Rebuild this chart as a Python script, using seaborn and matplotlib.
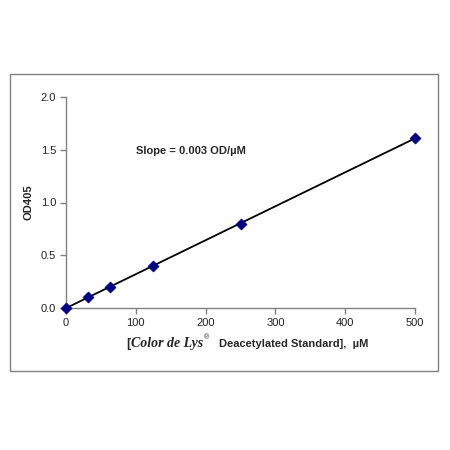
import matplotlib
matplotlib.use("Agg")
import matplotlib.pyplot as plt
import seaborn as sns
import numpy as np
import pandas as pd
from matplotlib.patches import Rectangle

conc = [0, 31.25, 62.5, 125, 250, 500]
od405 = [0.0, 0.10, 0.20, 0.40, 0.80, 1.61]
xticks = [0, 100, 200, 300, 400, 500]
yticks = [0.0, 0.5, 1.0, 1.5, 2.0]

sns.set_theme(style="white")
plt.rcParams['font.family'] = ['Liberation Sans', 'DejaVu Sans']

df = pd.DataFrame({"conc": conc, "od": od405})
slope = np.polyfit(df.conc, df.od, 1)
fit = pd.DataFrame({"conc": [0, 500]})
fit["od"] = np.polyval(slope, fit.conc)

fig = plt.figure(figsize=(4.5, 4.5), dpi=100)
fig.patches.append(Rectangle((0.0222, 0.1756), 0.951, 0.66, transform=fig.transFigure,
                             fill=False, edgecolor="#808080", linewidth=1.0))
ax = fig.add_axes([0.1467, 0.3156, 0.7755, 0.4688])

sns.lineplot(data=fit, x="conc", y="od", ax=ax, color="black", linewidth=1.3)
sns.scatterplot(data=df, x="conc", y="od", ax=ax, marker="D", s=32,
                color="#000080", edgecolor="#000080", zorder=5, clip_on=False)

ax.set_xlim(0, 500)
ax.set_ylim(0, 2.0)
ax.set_xticks(xticks)
ax.set_yticks(yticks)
ax.set_xticklabels([str(t) for t in xticks])
ax.set_yticklabels([f"{t:.1f}" for t in yticks])
for s in ["top", "right"]:
    ax.spines[s].set_visible(False)
for s in ["left", "bottom"]:
    ax.spines[s].set_color("#808080")
    ax.spines[s].set_linewidth(1.0)
ax.tick_params(axis="both", direction="out", length=4, width=1, color="#808080",
               labelsize=8, labelcolor="#222222", pad=3, bottom=True, left=True)

ax.set_ylabel("OD405", fontsize=8, fontweight="bold", labelpad=5)
ax.set_xlabel("")
fig.text(0.281, 0.2356, "[", fontsize=9, fontweight="bold", ha="left", va="center")
fig.text(0.292, 0.2356, "Color de Lys", fontsize=10, fontweight="bold", style="italic",
         family=["Liberation Serif", "DejaVu Serif"], ha="left", va="center")
fig.text(0.453, 0.249, "®", fontsize=5, ha="left", va="center")
fig.text(0.487, 0.2356, "Deacetylated Standard],  µM", fontsize=8, fontweight="bold",
         ha="left", va="center")

ax.text(179, 1.49, "Slope = 0.003 OD/µM", fontsize=8, fontweight="bold",
        ha="center", va="center")

fig.savefig("out.png", dpi=100)
